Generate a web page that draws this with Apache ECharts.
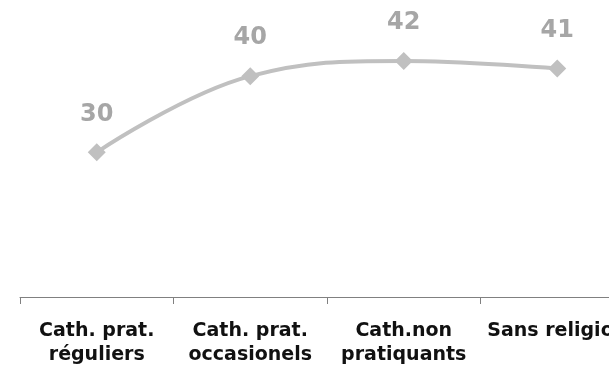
<!DOCTYPE html>
<html>
<head>
<meta charset="utf-8">
<script src="https://cdn.jsdelivr.net/npm/echarts@6/dist/echarts.min.js"></script>
<style>
  html, body { margin: 0; padding: 0; background: #ffffff; overflow: hidden; width: 609px; height: 371px; }
  #chart { width: 640px; height: 371px; }
</style>
</head>
<body>
<div id="chart"></div>
<script>
// Categories and values
const categories = [
  "Cath. prat.\nréguliers",
  "Cath. prat.\noccasionels",
  "Cath.non\npratiquants",
  "Sans religion"
];
const values = [30, 40, 42, 41];

const chart = echarts.init(document.getElementById('chart'), null, { renderer: 'canvas' });

chart.setOption({
  animation: false,
  // the chart is wider than the page, so the last category is cut off
  grid: { left: 20, right: 6, top: -2, bottom: 74 },
  xAxis: {
    type: 'category',
    data: categories,
    boundaryGap: true,
    axisLine: { lineStyle: { color: '#808080', width: 1 } },
    axisTick: { show: true, length: 7, lineStyle: { color: '#808080' } },
    axisLabel: {
      interval: 0,
      margin: 22,
      color: '#111111',
      fontFamily: 'DejaVu Sans',
      fontWeight: 'bold',
      fontSize: 19,
      lineHeight: 24,
      align: 'center'
    }
  },
  yAxis: {
    type: 'value',
    min: 11,
    max: 50,
    show: false,
    splitLine: { show: false }
  },
  series: [{
    type: 'line',
    data: values,
    smooth: 0.4,
    symbol: 'diamond',
    symbolSize: 18,
    lineStyle: { color: '#c0c0c0', width: 4 },
    itemStyle: { color: '#c0c0c0' },
    label: {
      show: true,
      position: 'top',
      distance: 17,
      color: '#a6a6a6',
      fontFamily: 'DejaVu Sans',
      fontWeight: 'bold',
      fontSize: 24
    }
  }]
});
</script>
</body>
</html>
